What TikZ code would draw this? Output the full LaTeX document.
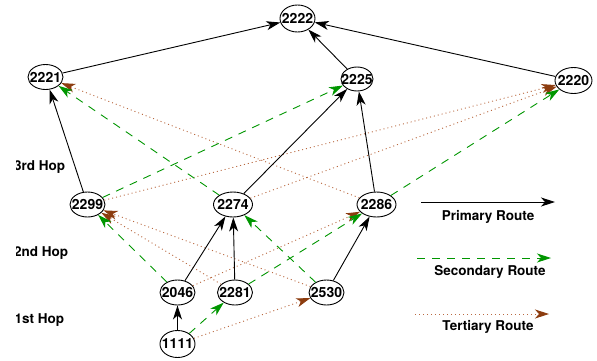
\documentclass[tikz,border=0pt]{standalone}
\usepackage{fontspec}
\setmainfont{TeX Gyre Heros}
\usetikzlibrary{arrows.meta,shapes.geometric}
\definecolor{secgreen}{RGB}{0,150,0}
\definecolor{terbrown}{RGB}{140,60,15}
\definecolor{terline}{RGB}{185,105,65}
\tikzset{
  hopnode/.style={ellipse,draw,line width=0.9pt,inner sep=0pt,minimum width=35pt,minimum height=25pt,
    font=\fontsize{14}{16}\selectfont\bfseries},
  primary/.style={-{Stealth[length=14pt,width=9pt,inset=4pt]},line width=0.9pt,black},
  secondary/.style={-{Stealth[length=14pt,width=9pt,inset=4pt]},line width=0.9pt,secgreen,dash pattern=on 8pt off 7pt},
  tertiary/.style={-{Stealth[length=14pt,width=9pt,inset=4pt,color=terbrown]},line width=0.9pt,terline,dash pattern=on 1pt off 3pt},
  lbl/.style={font=\fontsize{13.5}{16}\selectfont\bfseries,inner sep=0pt},
}
\newcommand{\nlab}[1]{\makebox[0pt]{#1}}
\begin{document}
\begin{tikzpicture}[x=1pt,y=-1pt]
\useasboundingbox (0,0) rectangle (597,360);
% nodes
\node[hopnode,minimum height=27pt] (n2222) at (297.5,18.5) {\nlab{2222}};
\node[hopnode] (n2221) at (45.5,77) {\nlab{2221}};
\node[hopnode,minimum width=32pt,minimum height=24pt] (n2225) at (357,79) {\nlab{2225}};
\node[hopnode,minimum width=37pt,minimum height=26pt] (n2220) at (573.5,80.5) {\nlab{2220}};
\node[hopnode] (n2299) at (87.5,204.5) {\nlab{2299}};
\node[hopnode,minimum width=39pt] (n2274) at (233,204.5) {\nlab{2274}};
\node[hopnode,minimum width=39pt] (n2286) at (376.5,204.5) {\nlab{2286}};
\node[hopnode] (n2046) at (177.5,292.5) {\nlab{2046}};
\node[hopnode] (n2281) at (235,292.5) {\nlab{2281}};
\node[hopnode] (n2530) at (326.5,292.5) {\nlab{2530}};
\node[hopnode,minimum height=27pt] (n1111) at (177.5,344) {\nlab{1111}};
% hop labels (clipped at left)
\begin{scope}
\clip (16.5,0) rectangle (120,360);
\node[lbl,anchor=west] (h3) at (14,167.5) {3rd Hop};
\node[lbl,anchor=west] (h2) at (14,253) {2nd Hop};
\node[lbl,anchor=west] (h1) at (14.5,320) {1st Hop};
\end{scope}
% tertiary
\draw[tertiary] (n2286) -- (n2221);
\draw[tertiary] (n2299) -- (n2220);
\draw[tertiary] (n2274) -- (n2220);
\draw[tertiary] (n2281) -- (n2299);
\draw[tertiary] (n2530) -- (n2299);
\draw[tertiary] (n2046) -- (n2286);
\draw[tertiary] (n1111) -- (n2530);
% secondary
\draw[secondary] (n2274) -- (n2221);
\draw[secondary] (n2299) -- (n2225);
\draw[secondary] (n2286) -- (n2220);
\draw[secondary] (n2046) -- (n2299);
\draw[secondary] (n2530) -- (n2274);
\draw[secondary] (n2281) -- (n2286);
\draw[secondary] (n1111) -- (n2281);
% primary
\draw[primary] (n2221) -- (n2222);
\draw[primary] (n2225) -- (n2222);
\draw[primary] (n2220) -- (n2222);
\draw[primary] (n2299) -- (n2221);
\draw[primary] (n2274) -- (n2225);
\draw[primary] (n2286) -- (n2225);
\draw[primary] (n2046) -- (n2274);
\draw[primary] (n2281) -- (n2274);
\draw[primary] (n2530) -- (n2286);
\draw[primary] (n1111) -- (n2046);
% legend
\coordinate (pa) at (421,202);
\coordinate (pb) at (555,202);
\coordinate (sa) at (417,258);
\coordinate (sb) at (551,258);
\coordinate (ta) at (415,314);
\coordinate (tb) at (549,314);
\draw[primary] (pa) -- (pb);
\draw[secondary] (sa) -- (sb);
\draw[tertiary] (ta) -- (tb);
\node[lbl] (lp) at (488,217) {Primary Route};
\node[lbl] (ls) at (490,272) {Secondary Route};
\node[lbl] (lt) at (488,327) {Tertiary Route};
\end{tikzpicture}
\end{document}
